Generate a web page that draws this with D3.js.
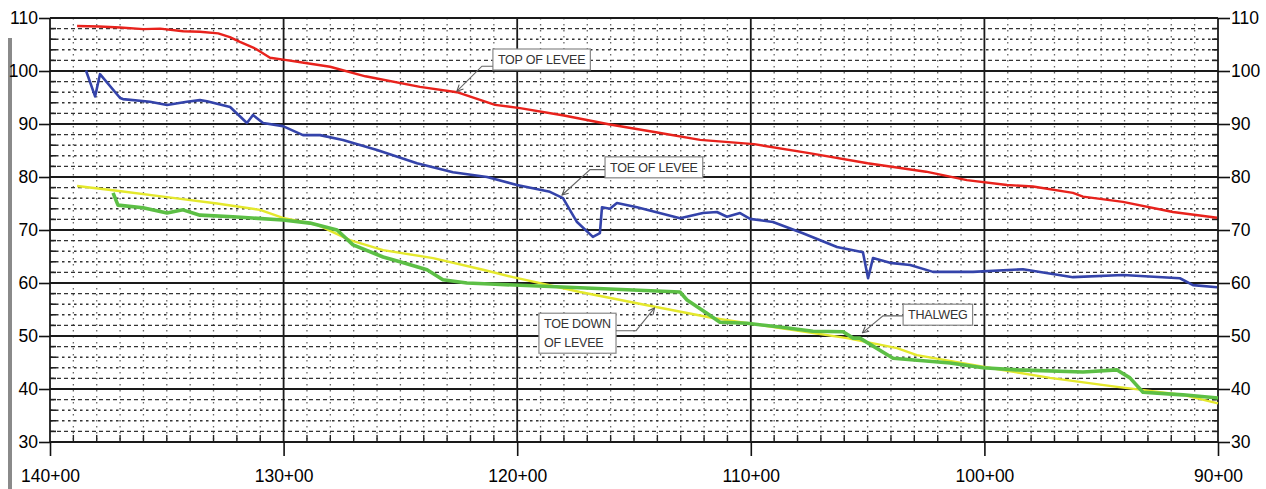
<!DOCTYPE html>
<html>
<head>
<meta charset="utf-8">
<script src="https://cdn.jsdelivr.net/npm/d3@7"></script>
<style>
  body { margin: 0; background: #fff; }
  svg { display: block; }
  .axis text { font-family: "Liberation Sans", Arial, sans-serif; font-size: 17.5px; fill: #000; }
  .axis line { stroke: #111; stroke-width: 1.6; }
  .note text { font-family: "Liberation Sans", Arial, sans-serif; font-size: 12.5px; fill: #333; letter-spacing: -0.2px; }
</style>
</head>
<body>
<svg width="1266" height="489"></svg>
<script>
/* DATA : station (x100 ft) and elevation */
var yTicks = [30, 40, 50, 60, 70, 80, 90, 100, 110];
var xTicks = [140, 130, 120, 110, 100, 90];

var topStation = [138.84, 137.9, 137.0, 136.0, 135.29, 134.3, 133.58, 132.8, 132.3, 131.87, 131.2, 130.58, 129.94, 129.2, 128.01, 126.5, 124.16, 122.58, 120.95, 119.88, 118.0, 116.03, 114.0, 112.17, 109.86, 107.5, 105.0, 102.5, 100.75, 99.03, 97.92, 96.21, 95.78, 94.07, 91.93, 90.04];
var topElev = [108.5, 108.4, 108.2, 107.9, 108.0, 107.5, 107.4, 107.1, 106.4, 105.5, 104.2, 102.5, 102.1, 101.6, 100.8, 99.0, 97.0, 96.0, 93.6, 93.0, 91.6, 89.9, 88.4, 87.0, 86.2, 84.5, 82.6, 81.0, 79.4, 78.5, 78.2, 77.0, 76.3, 75.3, 73.4, 72.3];

var toeStation = [138.46, 138.07, 137.86, 137.0, 136.88, 135.72, 134.99, 134.14, 133.58, 133.28, 132.29, 131.57, 131.31, 130.88, 130.03, 129.17, 128.44, 127.46, 126.0, 124.29, 122.75, 121.29, 120.01, 118.6, 118.04, 117.44, 116.76, 116.46, 116.37, 116.03, 115.73, 114.87, 113.03, 112.05, 111.45, 111.02, 110.46, 110.03, 109.05, 107.77, 106.31, 105.2, 104.98, 104.77, 104.04, 103.18, 102.2, 100.49, 98.35, 96.21, 94.07, 91.63, 91.07, 90.04];
var toeElev = [100.1, 95.2, 99.4, 94.9, 94.7, 94.2, 93.6, 94.2, 94.5, 94.3, 93.2, 90.2, 91.7, 90.2, 89.6, 87.9, 87.9, 87.0, 85.1, 82.6, 80.9, 80.0, 78.5, 77.2, 76.0, 71.5, 68.7, 69.4, 74.3, 74.0, 75.1, 74.3, 72.2, 73.2, 73.4, 72.5, 73.2, 72.1, 71.5, 69.4, 66.8, 65.8, 60.9, 64.7, 63.8, 63.4, 62.1, 62.1, 62.6, 61.1, 61.5, 60.9, 59.6, 59.2];

var thalwegStation = [138.84, 137.13, 134.99, 132.85, 131.01, 130.03, 128.57, 127.16, 125.74, 123.6, 121.46, 120.18, 117.31, 114.44, 111.62, 108.75, 105.88, 103.74, 102.89, 100.06, 97.19, 94.32, 91.5, 90.0];
var thalwegElev = [78.3, 77.4, 76.2, 75.0, 73.8, 72.3, 71.0, 68.1, 66.2, 64.7, 62.5, 61.1, 58.3, 55.8, 53.4, 51.5, 49.6, 47.7, 46.4, 44.2, 42.1, 40.4, 38.9, 37.3];

var toeDownStation = [137.3, 137.09, 136.02, 134.99, 134.31, 133.58, 132.17, 130.03, 128.87, 127.71, 127.03, 125.74, 125.02, 123.86, 123.18, 122.15, 121.16, 117.31, 113.03, 112.73, 111.88, 111.32, 110.16, 108.75, 107.34, 106.05, 105.62, 105.33, 103.91, 101.47, 100.06, 98.6, 95.78, 94.32, 93.77, 93.21, 91.5, 90.0];
var toeDownElev = [77.0, 74.7, 74.2, 73.2, 73.8, 72.8, 72.5, 71.9, 71.3, 70.0, 67.2, 64.9, 64.0, 62.5, 60.6, 60.0, 59.8, 59.1, 58.3, 56.8, 54.3, 52.6, 52.4, 51.7, 50.9, 50.8, 49.6, 49.6, 45.8, 44.9, 44.0, 43.6, 43.2, 43.6, 42.1, 39.4, 38.9, 38.3];

/* SVG */
var svg = d3.select("svg");

var x = d3.scaleLinear().domain([140, 90]).range([50, 1218]);
var y = d3.scaleLinear().domain([30, 110]).range([442, 18]);

// scan edge on the left
svg.append("rect").attr("x", 8).attr("y", 38).attr("width", 4).attr("height", 451).attr("fill", "#8a8a8a");

/* GRID */
var grid = svg.append("g");
var minorY = d3.range(32, 110, 2).filter(function (d) { return d % 10 != 0; });
var minorX = d3.range(91, 140, 1).filter(function (d) { return d % 10 != 0; });

grid.selectAll(".vminor").data(minorX).enter().append("line")
	.attr("x1", function (d) { return x(d); })
	.attr("x2", function (d) { return x(d); })
	.attr("y1", y(110)).attr("y2", y(30))
	.attr("stroke", "#666").attr("stroke-width", 1.3)
	.attr("stroke-dasharray", "1.5,4.5");

grid.selectAll(".hminor").data(minorY).enter().append("line")
	.attr("x1", x(140)).attr("x2", x(90))
	.attr("y1", function (d) { return y(d); })
	.attr("y2", function (d) { return y(d); })
	.attr("stroke", "#333")
	.attr("stroke-width", function (d) { return d % 10 == 4 || d % 10 == 6 ? 1.6 : 1.1; })
	.attr("stroke-dasharray", function (d) { return d % 10 == 4 || d % 10 == 6 ? "2.5,3.5" : "4,3"; });

// short edge ticks on minor rows
grid.selectAll(".lt").data(minorY).enter().append("line")
	.attr("x1", x(140)).attr("x2", x(140) + 6)
	.attr("y1", function (d) { return y(d); }).attr("y2", function (d) { return y(d); })
	.attr("stroke", "#222").attr("stroke-width", 1.6);
grid.selectAll(".rt").data(minorY).enter().append("line")
	.attr("x1", x(90) - 6).attr("x2", x(90))
	.attr("y1", function (d) { return y(d); }).attr("y2", function (d) { return y(d); })
	.attr("stroke", "#222").attr("stroke-width", 1.6);
grid.selectAll(".bt").data(minorX).enter().append("line")
	.attr("x1", function (d) { return x(d); }).attr("x2", function (d) { return x(d); })
	.attr("y1", y(30)).attr("y2", y(30) - 7)
	.attr("stroke", "#222").attr("stroke-width", 1.4);

grid.selectAll(".hmajor").data(yTicks).enter().append("line")
	.attr("x1", x(140)).attr("x2", x(90))
	.attr("y1", function (d) { return y(d); }).attr("y2", function (d) { return y(d); })
	.attr("stroke", "#1a1a1a").attr("stroke-width", 1.8);

grid.selectAll(".vmajor").data(xTicks).enter().append("line")
	.attr("x1", function (d) { return x(d); }).attr("x2", function (d) { return x(d); })
	.attr("y1", y(110)).attr("y2", y(30))
	.attr("stroke", "#1a1a1a").attr("stroke-width", 1.8);

/* AXES */
svg.append("g").attr("class", "axis")
	.attr("transform", "translate(" + x(140) + ",0)")
	.call(d3.axisLeft(y).tickValues(yTicks).tickSize(11).tickPadding(1))
	.call(function (g) { g.select(".domain").remove(); });

svg.append("g").attr("class", "axis")
	.attr("transform", "translate(" + x(90) + ",0)")
	.call(d3.axisRight(y).tickValues(yTicks).tickSize(12).tickPadding(1))
	.call(function (g) { g.select(".domain").remove(); });

svg.append("g").attr("class", "axis")
	.attr("transform", "translate(0," + y(30) + ")")
	.call(d3.axisBottom(x).tickValues(xTicks).tickSize(14).tickPadding(14)
		.tickFormat(function (d) { return d + "+00"; }))
	.call(function (g) { g.select(".domain").remove(); });

/* LINES */
function series(st, el) {
	return st.map(function (s, i) { return [s, el[i]]; });
}
var line = d3.line()
	.x(function (d) { return x(d[0]); })
	.y(function (d) { return y(d[1]); });

var layers = [
	{ data: series(thalwegStation, thalwegElev), color: "#e4e82c", width: 2.4 },
	{ data: series(toeDownStation, toeDownElev), color: "#5cbf45", width: 3.6 },
	{ data: series(toeStation, toeElev), color: "#3443aa", width: 2.6 },
	{ data: series(topStation, topElev), color: "#e8221c", width: 2.4 }
];

svg.append("g").selectAll("path").data(layers).enter().append("path")
	.attr("d", function (d) { return line(d.data); })
	.attr("fill", "none")
	.attr("stroke", function (d) { return d.color; })
	.attr("stroke-width", function (d) { return d.width; })
	.attr("stroke-linejoin", "round");

/* CALLOUTS (placed in station / elevation units) */
var notes = [
	{ lines: ["TOP OF LEVEE"], box: [121.04, 104.15], side: "left", elbow: [121.51, 100.9], tip: [122.58, 96.2] },
	{ lines: ["TOE OF LEVEE"], box: [116.24, 83.8], side: "left", elbow: [116.88, 81.4], tip: [118.08, 76.6] },
	{ lines: ["TOE DOWN", "OF LEVEE"], box: [119.07, 54.3], side: "right", elbow: [114.91, 51.0], tip: [114.12, 55.3] },
	{ lines: ["THALWEG"], box: [103.48, 56.0], side: "left", elbow: [104.34, 53.8], tip: [105.22, 50.6] }
];

svg.append("defs").append("marker")
	.attr("id", "arr").attr("viewBox", "0 0 10 10")
	.attr("refX", 9).attr("refY", 5)
	.attr("markerWidth", 7).attr("markerHeight", 7)
	.attr("orient", "auto")
	.append("path").attr("d", "M1,1 L9,5 L1,9")
	.attr("fill", "none").attr("stroke", "#555").attr("stroke-width", 1.4);

var note = svg.append("g").attr("class", "note").selectAll("g").data(notes).enter().append("g");

note.each(function (d) {
	var g = d3.select(this);
	var bx = x(d.box[0]), by = y(d.box[1]);
	var rect = g.append("rect").attr("fill", "#fff").attr("stroke", "#888").attr("stroke-width", 1.2);
	var txt = g.append("text");
	d.lines.forEach(function (t, i) {
		txt.append("tspan").attr("x", bx + 5).attr("y", by + 15 + i * 19).text(t);
	});
	var bb = txt.node().getBBox();
	var w = bb.width + 10, h = d.lines.length * 19 + 2;
	rect.attr("x", bx).attr("y", by).attr("width", w).attr("height", h);
	var ex = x(d.elbow[0]), ey = y(d.elbow[1]);
	var sx = d.side == "left" ? bx : bx + w;
	g.append("path")
		.attr("d", "M" + sx + "," + ey + " L" + ex + "," + ey + " L" + x(d.tip[0]) + "," + y(d.tip[1]))
		.attr("fill", "none").attr("stroke", "#666").attr("stroke-width", 1.1)
		.attr("marker-end", "url(#arr)");
});
</script>
</body>
</html>
